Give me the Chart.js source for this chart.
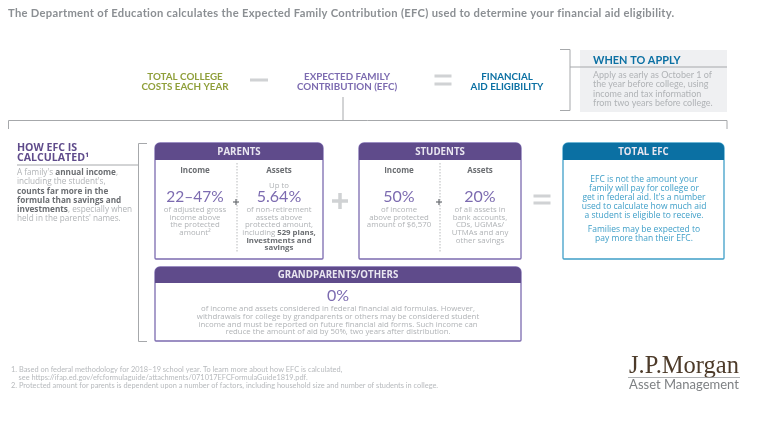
<!DOCTYPE html>
<html>
<head>
<meta charset="utf-8">
<script src="https://cdn.jsdelivr.net/npm/chart.js@4"></script>
<style>
  html, body { margin: 0; padding: 0; background: #fff; }
  canvas { display: block; }
</style>
</head>
<body>
<canvas id="efcChart" width="770" height="425"></canvas>
<script>
const titleText = 'The Department of Education calculates the Expected Family Contribution (EFC) used to determine your financial aid eligibility.';
const termCollege = ['TOTAL COLLEGE', 'COSTS EACH YEAR'];
const termEfc = ['EXPECTED FAMILY', 'CONTRIBUTION (EFC)'];
const termAid = ['FINANCIAL', 'AID ELIGIBILITY'];
const applyHeading = 'WHEN TO APPLY';
const applyLines = ['Apply as early as October 1 of', 'the year before college, using', 'income and tax information', 'from two years before college.'];
const howHeading = ['HOW EFC IS', 'CALCULATED¹'];
const howLines = ['A family\'s *annual income*,', 'including the student\'s,', '*counts far more in the*', '*formula than savings and*', '*investments*, especially when', 'held in the parents\' names.'];
const parentsIncomeRate = '22–47%';
const parentsIncomeLines = ['of adjusted gross', 'income above', 'the protected', 'amount²'];
const parentsAssetsRate = '5.64%';
const parentsAssetsLines = ['of non-retirement', 'assets above', 'protected amount,', 'including *529 plans,*', '*investments and*', '*savings*'];
const studentsIncomeRate = '50%';
const studentsIncomeLines = ['of income', 'above protected', 'amount of $6,570'];
const studentsAssetsRate = '20%';
const studentsAssetsLines = ['of all assets in', 'bank accounts,', 'CDs, UGMAs/', 'UTMAs and any', 'other savings'];
const totalLines = ['EFC is not the amount your', 'family will pay for college or', 'get in federal aid. It\'s a number', 'used to calculate how much aid', 'a student is eligible to receive.'];
const totalNote = ['Families may be expected to', 'pay more than their EFC.'];
const othersRate = '0%';
const othersLines = ['of income and assets considered in federal financial aid formulas. However,', 'withdrawals for college by grandparents or others may be considered student', 'income and must be reported on future financial aid forms. Such income can', 'reduce the amount of aid by 50%, two years after distribution.'];
const footnotes = ['1. Based on federal methodology for 2018–19 school year. To learn more about how EFC is calculated,', '    see https://ifap.ed.gov/efcformulaguide/attachments/071017EFCFormulaGuide1819.pdf.', '2. Protected amount for parents is dependent upon a number of factors, including household size and number of students in college.'];

const PURPLE = '#5f4b8b';
const PURPLE_LIGHT = '#7c6bb0';
const BLUE = '#0b70a3';
const BLUE_LIGHT = '#3f9fc8';
const OLIVE = '#8f9f3a';
const GREY_LINE = '#a6a8ab';
const GREY_MARK = '#d0d2d4';
const GREY_TEXT = '#b0b3b6';
const GREY_BOLD = '#6b6e72';
const HEAD_FONT = 'Lato';
const BODY_FONT = '"Open Sans"';

// draws one line, *starred* parts come out bold and darker
function drawLine(ctx, line, x, y, size, color, align) {
  const parts = line.split('*');
  const fontFor = i => (i % 2 ? '700 ' : '400 ') + size + 'px ' + BODY_FONT;
  let width = 0;
  parts.forEach((p, i) => { ctx.font = fontFor(i); width += ctx.measureText(p).width; });
  let left = align === 'center' ? x - width / 2 : x;
  ctx.textAlign = 'left';
  ctx.textBaseline = 'middle';
  parts.forEach((p, i) => {
    ctx.font = fontFor(i);
    ctx.fillStyle = i % 2 ? GREY_BOLD : color;
    ctx.fillText(p, left, y);
    left += ctx.measureText(p).width;
  });
}

function drawLines(ctx, lines, x, y, step, size, color, align) {
  lines.forEach((line, i) => drawLine(ctx, line, x, y + i * step, size, color, align));
}

function drawHead(ctx, text, x, y, font, color, align) {
  ctx.font = font;
  ctx.fillStyle = color;
  ctx.textAlign = align || 'center';
  ctx.textBaseline = 'middle';
  ctx.fillText(text, x, y);
}

function drawPath(ctx, points, color, width) {
  ctx.beginPath();
  points.forEach((p, i) => (i ? ctx.lineTo(p[0], p[1]) : ctx.moveTo(p[0], p[1])));
  ctx.strokeStyle = color;
  ctx.lineWidth = width;
  ctx.stroke();
}

function drawPanel(ctx, x, y, w, h, headH, title, headColor, lineColor) {
  ctx.beginPath();
  ctx.roundRect(x, y, w, h, [5, 5, 1, 1]);
  ctx.fillStyle = '#fff';
  ctx.fill();
  ctx.strokeStyle = lineColor;
  ctx.lineWidth = 1.3;
  ctx.stroke();
  ctx.beginPath();
  ctx.roundRect(x, y, w, headH, [5, 5, 0, 0]);
  ctx.fillStyle = headColor;
  ctx.fill();
  drawHead(ctx, title, x + w / 2, y + headH / 2 + 0.5, '700 9.7px ' + BODY_FONT, '#e9e6f0');
}

function drawDivider(ctx, x, y0, y1) {
  ctx.save();
  ctx.setLineDash([1.5, 1.5]);
  drawPath(ctx, [[x, y0], [x, y1]], GREY_LINE, 0.8);
  ctx.restore();
}

function drawPlus(ctx, x, y, arm, thick, color) {
  ctx.fillStyle = color;
  ctx.fillRect(x - arm, y - thick / 2, arm * 2, thick);
  ctx.fillRect(x - thick / 2, y - arm, thick, arm * 2);
}

function drawBars(ctx, x, ys, half, thick) {
  ctx.fillStyle = GREY_MARK;
  ys.forEach(y => ctx.fillRect(x - half, y - thick / 2, half * 2, thick));
}

const infographicPlugin = {
  id: 'infographic',
  afterDraw(chart) {
    const ctx = chart.ctx;
    ctx.save();

    // title and the equation row
    ctx.letterSpacing = '0.3px';
    drawHead(ctx, titleText, 8, 13.5, '700 11.2px ' + HEAD_FONT, '#8b8f93', 'left');
    ctx.letterSpacing = '0px';
    const termFont = '700 9.8px ' + HEAD_FONT;
    termCollege.forEach((t, i) => drawHead(ctx, t, 185, 76.5 + i * 10, termFont, OLIVE));
    termEfc.forEach((t, i) => drawHead(ctx, t, 347, 76.5 + i * 10, termFont, PURPLE_LIGHT));
    termAid.forEach((t, i) => drawHead(ctx, t, 507, 76.5 + i * 10, termFont, BLUE));
    drawBars(ctx, 259, [80], 9, 3);
    drawBars(ctx, 443, [76, 84], 8.5, 3);

    // when to apply box
    ctx.fillStyle = '#eff0f2';
    ctx.fillRect(580, 50, 147, 62);
    drawPath(ctx, [[560, 49.5], [570, 49.5], [570, 110.5], [560, 110.5]], GREY_LINE, 1);
    drawPath(ctx, [[570, 67], [727, 67]], GREY_LINE, 1);
    drawHead(ctx, applyHeading, 593, 60, '700 10.9px ' + HEAD_FONT, BLUE, 'left');
    applyLines.forEach((t, i) => drawHead(ctx, t, 593, 75 + i * 9.3, '400 9px ' + HEAD_FONT, GREY_TEXT, 'left'));

    // connector from the EFC term to the lower section
    drawPath(ctx, [[343, 97], [343, 120.5]], GREY_LINE, 1);
    drawPath(ctx, [[8.5, 129], [8.5, 120.5], [727, 120.5], [727, 129]], GREY_LINE, 1);

    // left hand explanation
    howHeading.forEach((t, i) => drawHead(ctx, t, 17, 148 + i * 9.5, '700 10.6px ' + BODY_FONT, PURPLE, 'left'));
    drawPath(ctx, [[17, 165], [138, 165]], GREY_LINE, 1);
    drawLines(ctx, howLines, 17, 173, 9.1, 8.2, GREY_TEXT, 'left');
    drawPath(ctx, [[147, 143.5], [138.5, 143.5], [138.5, 341.5], [147, 341.5]], GREY_LINE, 1);

    // parents
    drawPanel(ctx, 155, 143, 168, 116, 17, 'PARENTS', PURPLE, PURPLE_LIGHT);
    drawDivider(ctx, 237, 163, 253);
    drawHead(ctx, 'Income', 195, 171, '700 8px ' + BODY_FONT, GREY_BOLD);
    drawHead(ctx, 'Assets', 279, 171, '700 8px ' + BODY_FONT, GREY_BOLD);
    drawHead(ctx, parentsIncomeRate, 195, 197, '400 15.5px ' + HEAD_FONT, PURPLE_LIGHT);
    drawLine(ctx, 'Up to', 279, 186, 7.8, GREY_TEXT, 'center');
    drawHead(ctx, parentsAssetsRate, 279, 197, '400 16px ' + HEAD_FONT, PURPLE_LIGHT);
    drawLines(ctx, parentsIncomeLines, 195, 210, 7.6, 7.8, GREY_TEXT, 'center');
    drawLines(ctx, parentsAssetsLines, 279, 210, 7.6, 7.8, GREY_TEXT, 'center');
    drawPlus(ctx, 236, 202, 3, 1.2, GREY_BOLD);

    // big plus between panels
    drawPlus(ctx, 340, 201, 8, 3.5, GREY_MARK);

    // students
    drawPanel(ctx, 359, 143, 162, 116, 17, 'STUDENTS', PURPLE, PURPLE_LIGHT);
    drawDivider(ctx, 440, 163, 253);
    drawHead(ctx, 'Income', 399, 171, '700 8px ' + BODY_FONT, GREY_BOLD);
    drawHead(ctx, 'Assets', 480, 171, '700 8px ' + BODY_FONT, GREY_BOLD);
    drawHead(ctx, studentsIncomeRate, 399, 197, '400 16px ' + HEAD_FONT, PURPLE_LIGHT);
    drawHead(ctx, studentsAssetsRate, 480, 197, '400 16px ' + HEAD_FONT, PURPLE_LIGHT);
    drawLines(ctx, studentsIncomeLines, 399, 210, 7.6, 7.8, GREY_TEXT, 'center');
    drawLines(ctx, studentsAssetsLines, 480, 210, 7.6, 7.8, GREY_TEXT, 'center');
    drawPlus(ctx, 439, 202, 3, 1.2, GREY_BOLD);

    drawBars(ctx, 542, [196, 203], 8.5, 3);

    // total efc
    drawPanel(ctx, 563, 143, 161, 116, 17, 'TOTAL EFC', BLUE, BLUE_LIGHT);
    drawLines(ctx, totalLines, 644, 180, 9, 8.5, BLUE_LIGHT, 'center');
    drawLines(ctx, totalNote, 644, 230, 9, 8.5, BLUE_LIGHT, 'center');

    // grandparents
    drawPanel(ctx, 155, 267, 366, 74, 16, 'GRANDPARENTS/OTHERS', PURPLE, PURPLE_LIGHT);
    drawHead(ctx, othersRate, 338, 296, '400 16px ' + HEAD_FONT, PURPLE_LIGHT);
    drawLines(ctx, othersLines, 338, 309, 7.7, 7.8, GREY_TEXT, 'center');

    // footnotes
    footnotes.forEach((t, i) => drawHead(ctx, t, 11, [370, 377.5, 386][i], '400 7.4px ' + HEAD_FONT, '#b7babd', 'left'));

    // logo
    drawHead(ctx, 'J.P.Morgan', 684, 367, '400 24.5px "Liberation Serif"', '#4d3b2a');
    drawPath(ctx, [[628, 377.5], [740, 377.5]], '#9b9d9f', 0.8);
    drawHead(ctx, 'Asset Management', 684, 385, '400 13px ' + HEAD_FONT, '#7e8184');

    ctx.restore();
  }
};

new Chart(document.getElementById('efcChart'), {
  type: 'scatter',
  data: { datasets: [] },
  options: {
    responsive: false,
    animation: false,
    layout: { padding: 0 },
    plugins: { legend: { display: false }, tooltip: { enabled: false } },
    scales: {
      x: { display: false, min: 0, max: 770 },
      y: { display: false, min: 0, max: 425, reverse: true }
    }
  },
  plugins: [infographicPlugin]
});
</script>
</body>
</html>
